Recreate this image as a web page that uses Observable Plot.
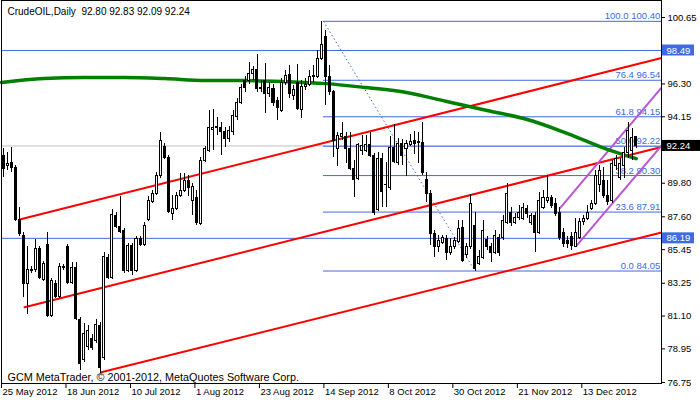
<!DOCTYPE html>
<html><head><meta charset="utf-8">
<script src="https://cdn.jsdelivr.net/npm/d3@7"></script>
<script src="https://cdn.jsdelivr.net/npm/@observablehq/plot@0.6"></script>
<style>body{margin:0;background:#fff}svg{display:block}</style>
</head><body><div id="chart"></div>
<script>
// ---------- data ----------
const symbol = "CrudeOIL";
const period = "Daily";
const copyright = "GCM MetaTrader, \u00a9 2001-2012, MetaQuotes Software Corp.";

const open = [91.61,90.95,91.15,90.82,87.42,86.37,83.22,84.08,84.14,85.52,
83.49,85.78,81.13,83.22,82.37,84.27,85.59,83.29,84.27,80.87,
78.25,79.10,79.62,79.49,80.48,78.38,84.93,83.62,87.68,86.96,
86.70,84.08,85.72,84.08,86.17,85.78,87.42,88.60,89.12,90.24,
92.20,91.48,87.81,88.14,88.99,89.32,89.97,88.66,88.86,87.16,
91.28,91.94,93.31,93.44,93.44,93.18,92.72,93.18,94.16,95.08,
96.52,96.52,96.98,97.24,96.00,96.52,95.67,96.00,95.21,94.56,
96.39,96.91,95.54,96.39,94.62,96.13,96.26,96.78,96.78,97.96,
99.40,96.78,95.74,92.07,92.85,92.85,92.07,90.76,90.10,91.94,
91.94,92.33,91.61,88.07,91.41,89.71,89.51,92.13,91.15,92.39,
92.07,92.33,92.59,92.46,92.46,90.04,89.12,86.50,85.59,85.91,
86.17,85.20,85.59,85.98,86.89,85.13,85.59,87.03,84.53,84.93,
86.11,85.59,85.26,86.24,86.24,87.22,87.88,87.22,87.55,87.48,
88.14,87.22,87.68,86.57,88.20,88.66,88.86,88.46,87.88,86.57,
86.04,86.30,85.65,86.24,87.29,87.48,88.14,88.46,89.65,89.97,
88.99,88.66,90.95,90.17,90.95,91.81,91.94,92.80];
const high = [92.07,91.81,92.13,90.95,88.20,86.57,85.65,84.34,86.11,85.65,
84.66,86.57,83.55,83.42,84.53,84.47,85.78,84.60,84.60,81.00,
80.60,80.48,79.88,80.87,80.67,85.26,85.13,88.07,87.88,88.92,
86.83,85.85,85.85,86.30,86.30,87.22,88.92,89.32,90.50,93.12,
92.39,91.61,88.99,89.19,90.43,90.43,90.30,89.78,89.32,91.48,
92.20,94.56,94.62,94.10,93.77,93.44,93.51,94.56,95.34,96.26,
96.78,97.70,97.44,98.22,96.52,97.63,96.39,96.26,95.41,96.65,
97.18,97.50,96.19,97.57,96.52,96.65,97.18,97.50,98.49,100.40,
99.80,97.50,95.87,93.12,93.77,93.12,93.12,91.28,92.39,92.92,
92.92,93.12,91.74,91.81,91.74,91.15,92.85,93.64,92.72,92.66,
92.59,92.99,93.18,93.12,93.77,90.50,89.32,86.70,86.37,86.37,
86.37,86.17,86.24,87.35,87.35,85.85,89.06,87.88,85.39,87.35,
86.30,85.85,86.70,86.43,87.68,89.78,88.20,87.81,88.33,88.46,
88.33,87.81,87.88,89.19,89.32,90.30,88.99,88.79,88.20,86.83,
86.30,86.57,87.48,87.48,87.68,88.33,88.66,90.63,90.95,90.82,
89.97,91.28,91.61,91.41,92.13,93.77,93.38,92.83];
const low = [90.17,90.63,90.50,87.29,86.30,82.31,81.20,83.88,83.95,83.49,
83.36,81.00,81.00,82.24,82.24,84.08,83.16,83.16,80.80,77.53,
78.05,78.84,78.84,79.29,77.33,78.18,83.49,83.49,86.83,86.50,
83.88,83.95,83.75,83.95,85.65,85.65,87.29,88.46,88.99,90.10,
91.35,87.81,87.35,88.01,88.86,89.19,88.92,87.68,87.03,87.03,
91.15,91.81,91.94,92.92,91.61,92.13,92.46,92.92,93.90,94.95,
95.74,96.26,96.52,95.74,95.74,94.36,95.41,94.82,93.90,94.42,
96.19,95.34,95.21,94.56,94.03,95.87,96.13,96.39,96.65,97.83,
94.88,95.54,91.48,90.89,92.59,91.08,90.63,88.86,89.97,91.61,
91.81,91.48,87.68,87.94,88.20,88.20,89.32,91.08,90.95,90.95,
90.24,92.20,91.68,91.08,90.30,88.53,85.72,84.93,85.26,85.78,
84.73,85.06,85.46,85.85,84.60,84.86,85.46,84.05,84.40,84.80,
85.39,84.60,85.13,84.99,86.04,87.09,86.96,87.09,87.35,87.35,
87.48,87.03,85.26,86.43,88.07,88.46,88.14,87.61,86.04,85.59,
85.52,85.39,85.59,86.11,87.03,87.35,88.01,88.33,89.19,88.79,
88.33,88.46,90.63,89.97,90.10,91.41,91.28,92.09];
const close = [90.76,91.08,90.82,87.42,86.50,83.22,84.14,84.14,85.52,83.62,
84.53,81.13,83.42,82.37,84.34,84.30,83.29,84.27,80.93,77.99,
79.95,80.15,79.03,80.54,77.73,84.99,83.62,87.75,86.96,86.63,
84.08,85.72,84.08,86.17,85.78,87.03,88.66,89.12,90.24,92.59,
91.48,87.94,88.14,88.99,89.32,89.97,89.51,89.58,87.22,91.28,
92.07,93.44,93.44,93.51,93.18,92.72,93.25,94.23,95.08,96.06,
96.06,96.98,97.18,96.00,96.06,95.67,96.06,95.08,94.75,96.39,
96.85,95.61,95.93,94.69,96.13,96.26,96.78,96.85,97.96,98.88,
96.78,95.74,92.59,92.92,93.05,92.07,90.76,90.04,92.33,92.26,
92.33,91.61,87.88,91.41,89.25,89.65,92.13,91.22,92.39,91.61,
92.39,92.53,92.39,92.53,90.50,89.12,86.50,85.59,86.04,86.24,
85.26,85.59,86.04,86.83,84.73,85.65,88.46,84.21,84.99,86.70,
85.59,85.26,86.37,85.26,87.35,89.12,87.22,87.55,87.88,88.20,
87.81,87.68,86.57,88.66,88.86,88.86,88.33,87.81,86.24,85.85,
85.85,85.72,86.57,87.29,87.48,87.88,88.46,90.30,90.63,88.99,
88.60,91.08,91.41,91.08,91.81,93.25,92.79,92.24];

// moving average (green) read at some bars
const maBar = [-0.5,10,20,30,40,50,60,70,80,90,100,110,120,130,140,150,157];
const maVal = [96.39,96.65,96.72,96.72,96.65,96.52,96.52,96.45,96.32,96.06,95.74,95.15,94.56,93.97,93.05,92.00,91.41];

// red channel lines (bar, price) -> (bar, price)
const redBar1 = [4, 5, 24];
const redP1   = [87.42, 81.66, 77.40];
const redBar2 = [163.28, 163.28, 163.28];
const redP2   = [98.00, 92.17, 86.57];

// purple channel lines
const purBar1 = [138, 142];
const purP1   = [88.14, 85.65];
const purBar2 = [163.28, 163.28];
const purP2   = [96.06, 92.26];

// Fibonacci retracement
const fibHighBar = 79.4, fibLowBar = 117;
const fibPct    = [100.0, 76.4, 61.8, 50.0, 38.2, 23.6, 0.0];
const fibPrice  = [100.40, 96.54, 94.15, 92.22, 90.30, 87.91, 84.05];

// horizontal lines and bid
const hLines = [98.49, 86.19];
const bid = 92.24;

// axes (98.45 and 91.95 sit under the price boxes, so only their tick marks show)
const yTicks = [100.65, 98.45, 96.30, 94.15, 91.95, 89.80, 87.60, 85.45, 83.25, 81.10, 78.95, 76.75];
const yTickHidden = [98.45, 91.95];
const xTickBars = [0, 16, 32, 48, 64, 80, 96, 112, 128, 144];
const xTickLabels = ["25 May 2012","18 Jun 2012","10 Jul 2012","1 Aug 2012","23 Aug 2012","14 Sep 2012","8 Oct 2012","30 Oct 2012","21 Nov 2012","13 Dec 2012"];

// ---------- drawing ----------
const XMIN = -0.5, XMAX = 163.28, YMIN = 76.685, YMAX = 101.763;
const BLUE = "#4169E1";
const bars = open.map((o, i) => ({i, o, h: high[i], l: low[i], c: close[i]}));
const up = bars.filter(d => d.c >= d.o), down = bars.filter(d => d.c < d.o);
const ma = maBar.map((b, k) => ({b, v: maVal[k]}));
const redIdx = d3.range(redBar1.length), purIdx = d3.range(purBar1.length);
const n = close.length - 1;
const header = `${symbol},${period}\u00a0\u00a0${open[n].toFixed(2)} ${high[n].toFixed(2)} ${low[n].toFixed(2)} ${close[n].toFixed(2)}`;
const PX = 660 / (XMAX - XMIN); // px per bar
const PY = 383 / (YMAX - YMIN);
const shownTicks = yTicks.filter(t => !yTickHidden.includes(t));

const chart = Plot.plot({
  width: 700, height: 402,
  marginLeft: 1, marginRight: 39, marginTop: 0, marginBottom: 19,
  x: {domain: [XMIN, XMAX], axis: null},
  y: {domain: [YMIN, YMAX], axis: null},
  style: {background: "white", fontFamily: "'Liberation Sans', Arial, sans-serif", fontSize: "9.5px", overflow: "visible"},
  marks: [
    Plot.ruleY([bid], {stroke: "#c0c0c0"}),
    Plot.ruleY(hLines, {stroke: BLUE}),
    Plot.ruleY(fibPrice, {x1: () => fibHighBar, x2: () => XMAX, stroke: BLUE}),
    Plot.link([0], {x1: () => fibHighBar, y1: () => fibPrice[0], x2: () => fibLowBar, y2: () => fibPrice[fibPrice.length - 1], stroke: BLUE, strokeDasharray: "1.5,2.5"}),
    Plot.text(fibPrice, {x: () => XMAX - 0.3, y: d => d, text: (d, k) => `${fibPct[k].toFixed(1)} ${d.toFixed(2)}`, textAnchor: "end", dy: -5, fill: BLUE}),
    Plot.link(redIdx, {x1: k => redBar1[k], y1: k => redP1[k], x2: k => redBar2[k], y2: k => redP2[k], stroke: "#ff0000", strokeWidth: 2}),
    Plot.link(purIdx, {x1: k => purBar1[k], y1: k => purP1[k], x2: k => purBar2[k], y2: k => purP2[k], stroke: "#BA55D3", strokeWidth: 2}),
    Plot.line(ma, {x: "b", y: "v", stroke: "#008000", strokeWidth: 3.5, curve: "monotone-x"}),
    Plot.ruleX(bars, {x: "i", y1: "l", y2: "h", stroke: "black", shapeRendering: "crispEdges"}),
    Plot.rect(up, {x1: d => d.i - 0.5, x2: d => d.i + 0.5, y1: "o", y2: "c", insetLeft: 1, insetRight: 1, fill: "white", stroke: "black", shapeRendering: "crispEdges"}),
    Plot.rect(down, {x1: d => d.i - 0.5, x2: d => d.i + 0.5, y1: "o", y2: "c", insetLeft: 1, insetRight: 1, fill: "black", stroke: "black", shapeRendering: "crispEdges"}),
    Plot.frame({stroke: "black", shapeRendering: "crispEdges"}),
    // right price axis
    Plot.ruleY(yTicks, {x1: () => XMAX, x2: () => XMAX + 4 / PX, stroke: "black"}),
    Plot.text(shownTicks, {x: () => XMAX + 6 / PX, y: d => d, text: d => d.toFixed(2), textAnchor: "start", fill: "black"}),
    Plot.rect(hLines, {x1: () => XMAX + 1 / PX, x2: () => XMAX + 33 / PX, y1: d => d - 5.5 / PY, y2: d => d + 5.5 / PY, fill: BLUE}),
    Plot.text(hLines, {x: () => XMAX + 5 / PX, y: d => d, text: d => d.toFixed(2), textAnchor: "start", fill: "white"}),
    Plot.rect([bid], {x1: () => XMAX + 1 / PX, x2: () => XMAX + 39 / PX, y1: d => d - 5.5 / PY, y2: d => d + 5.5 / PY, fill: "black"}),
    Plot.text([bid], {x: () => XMAX + 5 / PX, y: d => d, text: d => d.toFixed(2), textAnchor: "start", fill: "white"}),
    // bottom time axis
    Plot.ruleX(xTickBars, {x: d => d - 0.5, y1: () => YMIN, y2: () => YMIN - 5 / PY, stroke: "black"}),
    Plot.text(xTickLabels, {x: (d, k) => xTickBars[k] - 0.5, frameAnchor: "bottom", dy: 11, dx: 1, textAnchor: "start", text: d => d, fill: "black"}),
    // header and footer
    Plot.text([header], {frameAnchor: "top-left", dx: 6, dy: 7, lineAnchor: "top", text: d => d, fontSize: 10, fill: "black"}),
    Plot.text([copyright], {frameAnchor: "bottom-left", dx: 6, dy: -3, lineAnchor: "bottom", text: d => d, fontSize: 10.8, fill: "black"})
  ]
});
document.getElementById("chart").appendChild(chart);
</script></body></html>
